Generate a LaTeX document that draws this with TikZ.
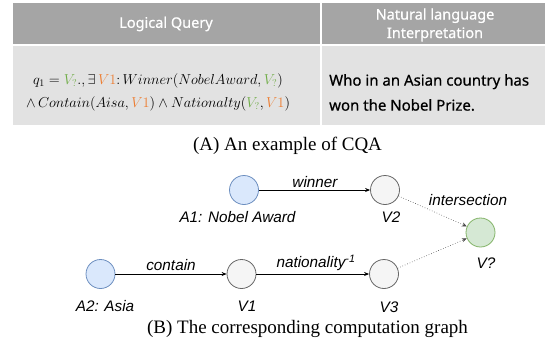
\documentclass[tikz,border=0pt]{standalone}
\usepackage{fontspec}
\setmainfont{Liberation Serif}
\newfontfamily\labelfont{Liberation Sans}
\newfontfamily\tablefont[FakeBold=0.6]{Noto Sans}
\usetikzlibrary{arrows.meta}

\definecolor{headgray}{HTML}{A5A5A5}
\definecolor{bodygray}{HTML}{E2E2E2}
\definecolor{vgreen}{HTML}{70AD47}
\definecolor{vorange}{HTML}{ED7D31}
\definecolor{anchorfill}{HTML}{DAE8FC}
\definecolor{anchordraw}{HTML}{6C8EBF}
\definecolor{varfill}{HTML}{F5F5F5}
\definecolor{vardraw}{HTML}{666666}
\definecolor{ansfill}{HTML}{D5E8D4}
\definecolor{ansdraw}{HTML}{82B366}

\tikzset{
  ent/.style={circle, minimum size=29pt, inner sep=0pt, line width=0.8pt},
  anchorent/.style={ent, fill=anchorfill, draw=anchordraw},
  varent/.style={ent, fill=varfill, draw=vardraw},
  ansent/.style={ent, fill=ansfill, draw=ansdraw},
  glabel/.style={font=\labelfont\itshape\fontsize{15.3}{17}\selectfont, inner sep=0pt},
  caption/.style={font=\fontsize{19}{22}\selectfont, inner sep=0pt},
  headtext/.style={font=\tablefont\fontsize{14.5}{18.5}\selectfont, text=white, inner sep=0pt, align=center},
  bodytext/.style={font=\tablefont\fontsize{15}{25}\selectfont, inner sep=0pt, align=left, anchor=west},
  mathtext/.style={font=\fontsize{14.9}{23}\selectfont, inner sep=0pt, align=center},
  relation/.style={-{Stealth[length=5pt,width=4pt]}, line width=0.7pt},
  joinedge/.style={-{Stealth[length=5pt,width=4pt]}, line width=0.6pt, dotted, draw=black!70},
}

\begin{document}
\begin{tikzpicture}[x=1pt, y=-1pt]
\useasboundingbox (0,0) rectangle (545,340);

% table cells
\fill[headgray] (13,3) rectangle (320,44);
\fill[headgray] (321.5,3) rectangle (545,44);
\fill[bodygray] (13,46) rectangle (320,125);
\fill[bodygray] (321.5,46) rectangle (545,125);

\node[headtext] (h1) at (166,24) {Logical Query};
\node[headtext] (h2) at (435,25) {Natural language\\Interpretation};

\node[mathtext] (q) at (158,92) {%
  $q_1 = {\color{vgreen}V_?}.,\exists\,{\color{vorange}V1}\colon Winner(NobelAward,{\color{vgreen}V_?})$\\
  $\wedge\, Contain(Aisa,{\color{vorange}V1})\wedge Nationalty({\color{vgreen}V_?},{\color{vorange}V1})$};

\node[bodytext] (nl) at (329,92.5) {Who in an Asian country has\\won the Nobel Prize.};

\node[caption] (capA) at (287.5,146) {(A) An example of CQA};

% computation graph
\node[anchorent] (a1) at (244,190) {};
\node[varent] (v2) at (385,190) {};
\node[ansent] (vq) at (480.5,232.5) {};
\node[anchorent] (a2) at (100.5,274) {};
\node[varent] (v1) at (241.5,274) {};
\node[varent] (v3) at (384,274) {};

\node[glabel] (la1) at (237.5,217) {A1: Nobel Award};
\node[glabel] (lv2) at (391,217) {V2};
\node[glabel] (lvq) at (486,263) {V?};
\node[glabel] (la2) at (105,306) {A2: Asia};
\node[glabel] (lv1) at (247,306) {V1};
\node[glabel] (lv3) at (389,307) {V3};

\draw[relation] (a1) -- (v2);
\draw[relation] (a2) -- (v1);
\draw[relation] (v1) -- (v3);
\draw[joinedge] (v2) -- (vq);
\draw[joinedge] (v3) -- (vq);

\node[glabel] (lw) at (315,182) {winner};
\node[glabel] (lc) at (171,265) {contain};
\node[glabel] (ln) at (316,263) {nationality\textsuperscript{-1}};
\node[glabel] (li) at (468,200) {intersection};

\node[caption] (capB) at (307.5,329) {(B) The corresponding computation graph};
\end{tikzpicture}
\end{document}
